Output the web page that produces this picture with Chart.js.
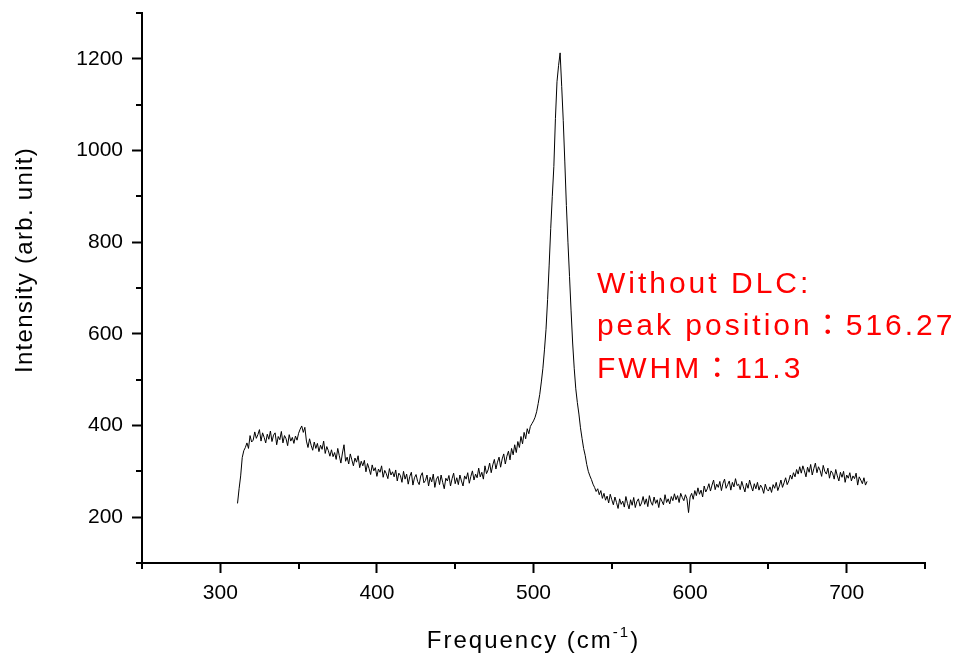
<!DOCTYPE html>
<html>
<head>
<meta charset="utf-8">
<script src="https://cdn.jsdelivr.net/npm/chart.js@4.4.1/dist/chart.umd.min.js"></script>
<style>
    html, body { margin: 0; padding: 0; background: #fff; }
    #wrap { width: 964px; height: 659px; }
</style>
</head>
<body>
<div id="wrap"><canvas id="spectrum" width="964" height="659"></canvas></div>
<script>
// Raman spectrum, sample without DLC

const freq = [
    311, 312, 313, 314, 315, 316, 317, 318, 319, 320, 321, 322, 323, 324, 325, 326, 327, 328, 329, 330,
    331, 332, 333, 334, 335, 336, 337, 338, 339, 340, 341, 342, 343, 344, 345, 346, 347, 348, 349, 350,
    351, 352, 353, 354, 355, 356, 357, 358, 359, 360, 361, 362, 363, 364, 365, 366, 367, 368, 369, 370,
    371, 372, 373, 374, 375, 376, 377, 378, 379, 380, 381, 382, 383, 384, 385, 386, 387, 388, 389, 390,
    391, 392, 393, 394, 395, 396, 397, 398, 399, 400, 401, 402, 403, 404, 405, 406, 407, 408, 409, 410,
    411, 412, 413, 414, 415, 416, 417, 418, 419, 420, 421, 422, 423, 424, 425, 426, 427, 428, 429, 430,
    431, 432, 433, 434, 435, 436, 437, 438, 439, 440, 441, 442, 443, 444, 445, 446, 447, 448, 449, 450,
    451, 452, 453, 454, 455, 456, 457, 458, 459, 460, 461, 462, 463, 464, 465, 466, 467, 468, 469, 470,
    471, 472, 473, 474, 475, 476, 477, 478, 479, 480, 481, 482, 483, 484, 485, 486, 487, 488, 489, 490,
    491, 492, 493, 494, 495, 496, 497, 498, 499, 500, 501, 502, 503, 504, 505, 506, 507, 508, 509, 510,
    511, 512, 513, 514, 515, 516, 517, 518, 519, 520, 521, 522, 523, 524, 525, 526, 527, 528, 529, 530,
    531, 532, 533, 534, 535, 536, 537, 538, 539, 540, 541, 542, 543, 544, 545, 546, 547, 548, 549, 550,
    551, 552, 553, 554, 555, 556, 557, 558, 559, 560, 561, 562, 563, 564, 565, 566, 567, 568, 569, 570,
    571, 572, 573, 574, 575, 576, 577, 578, 579, 580, 581, 582, 583, 584, 585, 586, 587, 588, 589, 590,
    591, 592, 593, 594, 595, 596, 597, 598, 599, 600, 601, 602, 603, 604, 605, 606, 607, 608, 609, 610,
    611, 612, 613, 614, 615, 616, 617, 618, 619, 620, 621, 622, 623, 624, 625, 626, 627, 628, 629, 630,
    631, 632, 633, 634, 635, 636, 637, 638, 639, 640, 641, 642, 643, 644, 645, 646, 647, 648, 649, 650,
    651, 652, 653, 654, 655, 656, 657, 658, 659, 660, 661, 662, 663, 664, 665, 666, 667, 668, 669, 670,
    671, 672, 673, 674, 675, 676, 677, 678, 679, 680, 681, 682, 683, 684, 685, 686, 687, 688, 689, 690,
    691, 692, 693, 694, 695, 696, 697, 698, 699, 700, 701, 702, 703, 704, 705, 706, 707, 708, 709, 710,
    711, 712, 713
];

const intensity = [
    230, 262, 290, 330, 345, 352, 362, 350, 378, 364, 368, 386, 372, 380, 391, 366, 384, 374, 362, 381,
    370, 388, 365, 379, 384, 358, 376, 369, 387, 362, 378, 371, 356, 380, 366, 374, 361, 377, 368, 383,
    392, 399, 385, 396, 366, 352, 371, 357, 346, 364, 350, 361, 343, 357, 348, 366, 339, 354, 345, 333,
    347, 332, 341, 326, 350, 334, 318, 340, 358, 322, 331, 316, 338, 325, 312, 329, 320, 334, 308, 322,
    312, 324, 299, 317, 306, 293, 314, 301, 308, 289, 305, 298, 312, 287, 302, 295, 284, 306, 292, 299,
    288, 303, 279, 296, 291, 276, 300, 283, 294, 272, 289, 298, 270, 286, 293, 278, 271, 290, 297, 275,
    280, 292, 268, 287, 277, 294, 265, 283, 289, 271, 292, 276, 262, 285, 279, 291, 268, 284, 296, 273,
    286, 271, 292, 279, 268, 290, 283, 297, 274, 289, 301, 281, 294, 286, 307, 288, 298, 283, 312, 295,
    303, 318, 297, 314, 326, 305, 320, 331, 309, 327, 338, 316, 333, 344, 325, 350, 336, 358, 341, 365,
    352, 376, 360, 385, 371, 393, 382, 398, 404, 410, 418, 430, 448, 468, 495, 525, 565, 610, 675, 750,
    830, 900, 965, 1070, 1150, 1185, 1213, 1140, 1065, 975, 880, 800, 725, 650, 580, 525, 480, 450, 425, 395,
    372, 350, 335, 315, 300, 290, 282, 272, 265, 256, 262, 249, 258, 241, 252, 237, 246, 231, 250, 238,
    227, 244, 232, 219, 240, 228, 235, 222, 245, 230, 218, 238, 226, 243, 221, 234, 240, 224, 231, 245,
    228, 240, 223, 247, 233, 226, 244, 230, 238, 221, 242, 235, 227, 249, 232, 240, 229, 245, 236, 251,
    238, 247, 232, 252, 243, 236, 249, 240, 210, 244, 252, 239, 258, 247, 264, 250, 259, 244, 268, 255,
    262, 273, 257, 270, 281, 260, 272, 265, 278, 258, 274, 283, 263, 271, 279, 259, 276, 266, 284, 269,
    272, 260, 278, 266, 255, 274, 263, 281, 268, 257, 273, 262, 276, 259, 270, 264, 252, 272, 261, 257,
    266, 254, 271, 263, 276, 258, 268, 281, 265, 275, 286, 271, 279, 292, 283, 297, 288, 304, 294, 310,
    296, 312, 301, 288, 309, 298, 315, 292, 306, 318, 297, 310, 302, 289, 313, 300, 294, 307, 285, 301,
    296, 283, 304, 290, 279, 298, 287, 300, 276, 292, 285, 297, 279, 290, 284, 296, 270, 288, 281, 273,
    286, 270, 278
];

const xTickLabels = [300, 400, 500, 600, 700];
const yTickLabels = [200, 400, 600, 800, 1000, 1200];
const noteLines = ['Without DLC:', 'peak position\uFF1A516.27', 'FWHM\uFF1A11.3'];

const FONT = '"Liberation Sans", Arial, "Noto Sans CJK JP", sans-serif';

// minor ticks, axis titles and the red note
const axisDecor = {
    id: 'axisDecor',
    afterDraw(chart) {
        const ctx = chart.ctx;
        const xs = chart.scales.x;
        const ys = chart.scales.y;
        const area = chart.chartArea;

        ctx.save();
        ctx.strokeStyle = '#000';
        ctx.lineWidth = 2;
        ctx.beginPath();
        xs.ticks.forEach(t => {
            if (xTickLabels.includes(t.value)) return;
            const px = Math.round(xs.getPixelForValue(t.value));
            ctx.moveTo(px, area.bottom);
            ctx.lineTo(px, area.bottom + 6);
        });
        ys.ticks.forEach(t => {
            if (yTickLabels.includes(t.value)) return;
            const py = Math.round(ys.getPixelForValue(t.value));
            ctx.moveTo(area.left, py);
            ctx.lineTo(area.left - 6, py);
        });
        ctx.stroke();

        // y title
        ctx.fillStyle = '#000';
        ctx.save();
        ctx.translate(32, 260);
        ctx.rotate(-Math.PI / 2);
        ctx.font = '24px ' + FONT;
        ctx.letterSpacing = '1.3px';
        ctx.textAlign = 'center';
        ctx.textBaseline = 'alphabetic';
        ctx.fillText('Intensity (arb. unit)', 0, 0);
        ctx.restore();

        // x title with superscript
        ctx.save();
        ctx.letterSpacing = '2px';
        ctx.textBaseline = 'alphabetic';
        ctx.textAlign = 'left';
        const main = 'Frequency (cm';
        ctx.font = '24px ' + FONT;
        const w1 = ctx.measureText(main).width;
        const w3 = ctx.measureText(')').width;
        ctx.font = '15px ' + FONT;
        const w2 = ctx.measureText('-1').width;
        const x0 = (area.left + area.right) / 2 - (w1 + w2 + w3) / 2;
        const base = 648;
        ctx.font = '24px ' + FONT;
        ctx.fillText(main, x0, base);
        ctx.font = '15px ' + FONT;
        ctx.fillText('-1', x0 + w1, base - 11);
        ctx.font = '24px ' + FONT;
        ctx.fillText(')', x0 + w1 + w2, base);
        ctx.restore();

        // annotation
        ctx.save();
        ctx.fillStyle = '#ff0000';
        ctx.font = '30px ' + FONT;
        ctx.letterSpacing = '3px';
        ctx.textAlign = 'left';
        ctx.textBaseline = 'alphabetic';
        const nx = xs.getPixelForValue(540.5);
        const ny = ys.getPixelForValue(690);
        noteLines.forEach((s, i) => ctx.fillText(s, nx, ny + i * 42.5));
        ctx.restore();

        ctx.restore();
    }
};

const majorX = c => xTickLabels.includes(c.tick.value) ? '#000' : 'rgba(0,0,0,0)';
const majorY = c => yTickLabels.includes(c.tick.value) ? '#000' : 'rgba(0,0,0,0)';

new Chart(document.getElementById('spectrum'), {
    type: 'line',
    data: {
        datasets: [{
            data: freq.map((f, i) => ({ x: f, y: intensity[i] })),
            borderColor: '#000',
            borderWidth: 1,
            pointRadius: 0,
            tension: 0,
            fill: false
        }]
    },
    options: {
        responsive: false,
        animation: false,
        layout: { padding: { top: 13, right: 39, left: 0, bottom: 0 } },
        plugins: {
            legend: { display: false },
            tooltip: { enabled: false }
        },
        scales: {
            x: {
                type: 'linear',
                min: 250,
                max: 750,
                border: { display: true, color: '#000', width: 2 },
                grid: { drawOnChartArea: false, drawTicks: true, tickLength: 10, tickWidth: 2, tickColor: majorX },
                ticks: {
                    stepSize: 50,
                    autoSkip: false,
                    maxRotation: 0,
                    padding: 8,
                    color: '#000',
                    font: { family: FONT, size: 21 },
                    callback: v => xTickLabels.includes(v) ? String(v) : ''
                },
                afterFit: s => { s.height = 96; s.paddingLeft = 0; s.paddingRight = 0; }
            },
            y: {
                min: 100,
                max: 1300,
                border: { display: true, color: '#000', width: 2 },
                grid: { drawOnChartArea: false, drawTicks: true, tickLength: 10, tickWidth: 2, tickColor: majorY },
                ticks: {
                    stepSize: 100,
                    autoSkip: false,
                    padding: 9,
                    color: '#000',
                    font: { family: FONT, size: 21 },
                    callback: v => yTickLabels.includes(v) ? String(v) : ''
                },
                afterFit: s => { s.width = 142; s.paddingTop = 0; s.paddingBottom = 0; }
            }
        }
    },
    plugins: [axisDecor]
});
</script>
</body>
</html>
